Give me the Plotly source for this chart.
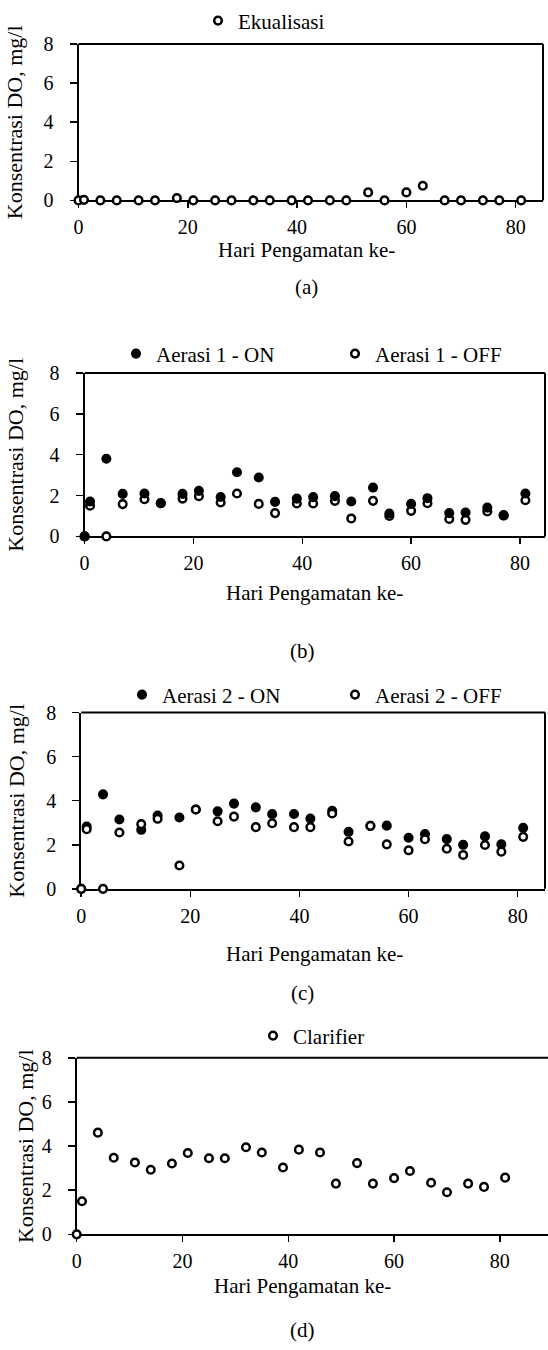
import plotly.graph_objects as go

# ---------------- data ----------------
days = [0, 1, 4, 7, 11, 14, 18, 21, 25, 28, 32, 35, 39, 42, 46, 49, 53, 56, 60, 63, 67, 70, 74, 77, 81]

ekualisasi = [0, 0.03, 0, 0, 0, 0, 0.12, 0, 0, 0, 0, 0, 0, 0, 0, 0, 0.41, 0, 0.41, 0.75, 0, 0, 0, 0, 0]

aerasi1_on = [0, 1.71, 3.80, 2.08, 2.10, 1.63, 2.08, 2.23, 1.93, 3.14, 2.88, 1.69, 1.85,
              1.92, 1.97, 1.71, 2.39, 1.12, 1.59, 1.87, 1.14, 1.17, 1.41, 1.04, 2.10]
aerasi1_off = [0, 1.50, 0, 1.58, 1.82, 1.62, 1.85, 1.97, 1.66, 2.10, 1.59, 1.14, 1.61,
               1.61, 1.74, 0.88, 1.74, 1.00, 1.25, 1.62, 0.85, 0.81, 1.22, 1.02, 1.77]

aerasi2_on = [0, 2.83, 4.29, 3.15, 2.68, 3.33, 3.24, 3.60, 3.52, 3.87, 3.70, 3.39, 3.40,
              3.19, 3.54, 2.59, 2.86, 2.87, 2.32, 2.49, 2.26, 2.00, 2.38, 2.02, 2.77]
aerasi2_off = [0, 2.71, 0, 2.56, 2.94, 3.18, 1.06, 3.60, 3.07, 3.28, 2.80, 2.98, 2.80,
               2.80, 3.42, 2.15, 2.86, 2.02, 1.75, 2.25, 1.82, 1.54, 1.99, 1.69, 2.36]

clarifier = [0, 1.50, 4.61, 3.47, 3.26, 2.93, 3.21, 3.69, 3.45, 3.45, 3.95, 3.71, 3.03,
             3.84, 3.71, 2.30, 3.23, 2.30, 2.55, 2.87, 2.34, 1.91, 2.30, 2.15, 2.57]

x_ticks = [0, 20, 40, 60, 80]
y_ticks = [0, 2, 4, 6, 8]
x_title = "Hari Pengamatan ke-"
y_title = "Konsentrasi DO, mg/l"
panel_labels = ["(a)", "(b)", "(c)", "(d)"]

# ---------------- layout helpers ----------------
W, H = 548, 1350
FONT = "Liberation Serif"
FS_TICK = 20
FS_TEXT = 21
FS_YT = 22


def fx(p):
    """pixel x -> paper fraction"""
    return p / W


def fy(p):
    """pixel y (from top) -> paper fraction"""
    return 1 - p / H


# panel frames in pixels: left, right, top, bottom, x max, right border shown
frames = [
    dict(l=78.5, r=543, t=40, b=197, xmax=85.0, box=True),
    dict(l=84.6, r=545, t=370, b=534, xmax=84.6, box=True),
    dict(l=81.2, r=545, t=710.7, b=887.5, xmax=85.0, box=True),
    dict(l=76.7, r=548, t=1057, b=1234, xmax=89.1, box=False),
]

fig = go.Figure()

open_marker = dict(symbol="circle", size=7.6, color="white", line=dict(color="black", width=2.5))
filled_marker = dict(symbol="circle", size=7.6, color="black", line=dict(color="black", width=2.5))


def add(name, y, marker, n, legend):
    fig.add_trace(go.Scatter(
        x=days, y=y, name=name, mode="markers", marker=marker,
        xaxis="x" if n == 1 else f"x{n}", yaxis="y" if n == 1 else f"y{n}",
        cliponaxis=False, legend=legend,
    ))


add("Ekualisasi", ekualisasi, open_marker, 1, "legend")
# panel b: ON drawn over OFF
add("Aerasi 1 - OFF", aerasi1_off, open_marker, 2, "legend3")
add("Aerasi 1 - ON", aerasi1_on, filled_marker, 2, "legend2")
# panel c: OFF drawn over ON
add("Aerasi 2 - ON", aerasi2_on, filled_marker, 3, "legend4")
add("Aerasi 2 - OFF", aerasi2_off, open_marker, 3, "legend5")
add("Clarifier", clarifier, open_marker, 4, "legend6")

layout = dict(
    width=W, height=H, margin=dict(l=0, r=0, t=0, b=0),
    paper_bgcolor="white", plot_bgcolor="rgba(0,0,0,0)",
    font=dict(family=FONT, size=FS_TEXT, color="black"),
    showlegend=True,
)

shapes = []
for i, f in enumerate(frames):
    n = i + 1
    xk = "xaxis" if n == 1 else f"xaxis{n}"
    yk = "yaxis" if n == 1 else f"yaxis{n}"
    ya = "y" if n == 1 else f"y{n}"
    xa = "x" if n == 1 else f"x{n}"
    x_dom = [fx(f["l"]), min(1.0, fx(f["r"]))]
    y_dom = [fy(f["b"]), fy(f["t"])]
    layout[xk] = dict(
        domain=x_dom, range=[0, f["xmax"]], anchor=ya,
        tickvals=x_ticks, ticks="outside", ticklen=6, tickwidth=1.5, tickcolor="black",
        showline=True, linecolor="black", linewidth=2,
        showgrid=False, zeroline=False, layer="below traces",
        tickfont=dict(family=FONT, size=FS_TICK), ticklabelstandoff=2, automargin=False,
    )
    layout[yk] = dict(
        domain=y_dom, range=[0, 8], anchor=xa,
        tickvals=y_ticks, ticks="outside", ticklen=7, tickwidth=1.5, tickcolor="black",
        showline=True, linecolor="black", linewidth=2,
        showgrid=False, zeroline=False, layer="below traces",
        tickfont=dict(family=FONT, size=FS_TICK), ticklabelstandoff=12, automargin=False,
    )
    # frame: top border (and right border where present)
    shapes.append(dict(type="line", xref="paper", yref="paper", layer="above",
                       x0=x_dom[0], x1=x_dom[1], y0=y_dom[1], y1=y_dom[1],
                       line=dict(color="black", width=2)))
    if f["box"]:
        shapes.append(dict(type="line", xref="paper", yref="paper", layer="above",
                           x0=x_dom[1], x1=x_dom[1], y0=y_dom[0], y1=y_dom[1],
                           line=dict(color="black", width=2)))
layout["shapes"] = shapes

# legends: (symbol centre x px, text centre y px)
leg_pos = {
    "legend": (222, 17),
    "legend2": (140, 351),
    "legend3": (359, 351),
    "legend4": (146, 693),
    "legend5": (359, 693),
    "legend6": (277, 1035),
}
for k, (sx, sy) in leg_pos.items():
    layout[k] = dict(
        x=fx(sx - 24), xanchor="left", y=fy(sy), yanchor="middle",
        orientation="h", bgcolor="rgba(0,0,0,0)", borderwidth=0,
        font=dict(family=FONT, size=FS_TEXT, color="black"),
    )

ann = []
xt_pos = [(306, 247), (314, 591), (314, 953), (302, 1286)]
lab_pos = [(306, 284), (302, 649), (302, 992), (302, 1330)]
yt_pos = [(14, 118.5), (16, 452), (17, 799), (25, 1145.5)]
for i in range(4):
    ann.append(dict(text=x_title, x=fx(xt_pos[i][0]), y=fy(xt_pos[i][1]), xref="paper", yref="paper",
                    xanchor="center", yanchor="middle", showarrow=False,
                    font=dict(family=FONT, size=FS_TEXT)))
    ann.append(dict(text=panel_labels[i], x=fx(lab_pos[i][0]), y=fy(lab_pos[i][1]), xref="paper",
                    yref="paper", xanchor="center", yanchor="middle", showarrow=False,
                    font=dict(family=FONT, size=FS_TEXT)))
    ann.append(dict(text=y_title, x=fx(yt_pos[i][0]), y=fy(yt_pos[i][1]), xref="paper", yref="paper",
                    xanchor="center", yanchor="middle", showarrow=False, textangle=-90,
                    font=dict(family=FONT, size=FS_YT)))
layout["annotations"] = ann

fig.update_layout(**layout)
# remove the browser's default page margin so the figure fills the window exactly
fig.write_html(
    "out.html",
    config={"displayModeBar": False, "staticPlot": True},
    post_script="document.body.style.margin='0px';document.body.style.overflow='hidden';",
)
